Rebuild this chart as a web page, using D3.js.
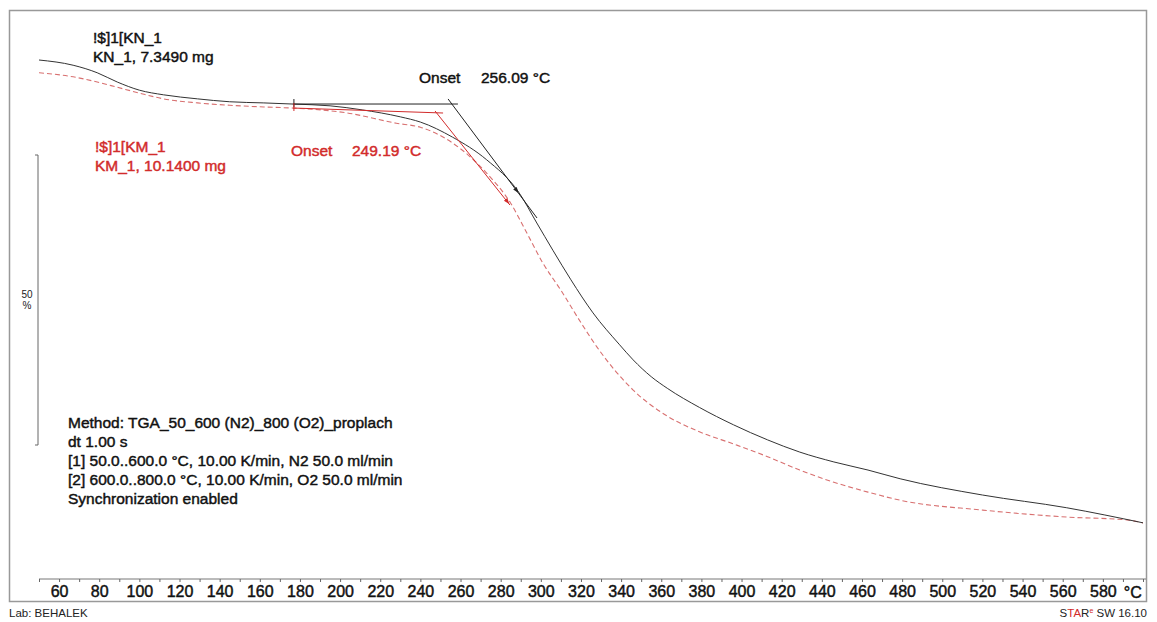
<html>
<head>
<meta charset="utf-8">
<title>TGA</title>
<style>
  body { margin: 0; background: #fff; }
  svg { font-family: "Liberation Sans", Arial, sans-serif; }
  .curve { fill: none; }
  .lbl { font-size: 15.5px; stroke-width: 0.45px; }
</style>
</head>
<body>
<script src="https://cdn.jsdelivr.net/npm/d3@7"></script>
<script>
// temperature (°C) / mass (%)
var blackT = [50, 67, 79, 89, 100, 112, 129, 145, 162, 177, 195, 211, 230, 240, 256, 273, 289, 298, 306, 315, 326, 339, 346, 355, 363, 379, 396, 413, 429, 446, 463, 479, 520, 562, 600];
var blackW = [100.0, 99.1, 97.8, 96.2, 94.8, 94.0, 93.3, 92.8, 92.6, 92.4, 92.1, 91.4, 90.2, 89.3, 86.7, 82.8, 77.2, 71.9, 67.2, 62.1, 56.4, 51.0, 48.3, 45.4, 43.4, 40.1, 37.1, 34.5, 32.4, 30.7, 29.3, 27.8, 25.0, 22.8, 20.2];
var redT = [50, 67, 79, 89, 100, 112, 129, 145, 162, 177, 203, 228, 240, 256, 273, 285, 293, 301, 310, 320, 328, 346, 363, 379, 396, 413, 429, 446, 463, 479, 520, 562, 592, 600];
var redW = [97.8, 97.1, 96.2, 95.3, 94.3, 93.3, 92.6, 92.2, 91.9, 91.7, 90.9, 89.1, 88.4, 85.7, 80.5, 75.3, 70.2, 65.0, 60.3, 54.7, 50.5, 43.1, 38.6, 35.9, 33.8, 31.6, 29.3, 27.2, 25.5, 24.1, 22.4, 21.2, 20.7, 20.2];

// onset constructions: baseline + inflection tangent, [°C, %]
var blackBase = [[176.5, 92.41], [258.7, 92.41]];
var blackTan = [[253.8, 93.28], [298.1, 72.76]];
var blackMark = [288.6, 77.2];
var redBase = [[176.5, 91.72], [251.3, 90.86]];
var redTan = [[247.3, 91.21], [284.6, 75.0]];
var redMark = [284.0, 75.3];
var blackOnset = "256.09 °C", redOnset = "249.19 °C";

var xTicks = d3.range(50, 601, 10);
var xLabels = d3.range(60, 581, 20);

var methodLines = [
  "Method: TGA_50_600 (N2)_800 (O2)_proplach",
  "dt 1.00 s",
  "[1] 50.0..600.0 °C, 10.00 K/min, N2 50.0 ml/min",
  "[2] 600.0..800.0 °C, 10.00 K/min, O2 50.0 ml/min",
  "Synchronization enabled"
];

var width = 1157, height = 622;
var RED = "#d22b2b", DASH = "#d87070", INK = "#111";

var svg = d3.select("body").append("svg")
  .attr("width", width).attr("height", height);

var x = d3.scaleLinear().domain([50, 600]).range([39, 1143]);
var y = d3.scaleLinear().domain([100, 50]).range([60, 350]);

// frame
svg.append("rect")
  .attr("x", 9.5).attr("y", 10.5).attr("width", 1137).attr("height", 591)
  .attr("fill", "none").attr("stroke", "#999").attr("stroke-width", 1.5);

// x axis
var axis = d3.axisBottom(x).tickValues(xTicks).tickSize(3).tickSizeOuter(0)
  .tickFormat(function (d) { return xLabels.indexOf(d) >= 0 ? d : ""; });
var ax = svg.append("g").attr("transform", "translate(0,579)").call(axis);
ax.select(".domain").attr("stroke", "#777").attr("d", "M39,0H1146");
ax.selectAll(".tick line").attr("stroke", "#666");
ax.selectAll(".tick text").attr("font-size", 16).attr("fill", INK)
  .attr("stroke", INK).attr("stroke-width", 0.45)
  .attr("font-family", "Liberation Sans, Arial, sans-serif").attr("y", 7);
svg.append("text").attr("x", x(580) + 21).attr("y", 598)
  .attr("font-size", 16).attr("fill", INK).attr("stroke", INK).attr("stroke-width", 0.45).text("°C");

// 50 % scale bar
var barTop = 155, barLen = y(50) - y(100);
svg.append("path")
  .attr("d", "M35," + barTop + "H38V" + (barTop + barLen) + "H35")
  .attr("fill", "none").attr("stroke", "#666").attr("stroke-width", 1);
svg.append("text").attr("x", 27).attr("y", barTop + barLen / 2 - 2)
  .attr("text-anchor", "middle").attr("font-size", 10).attr("fill", "#222").text("50");
svg.append("text").attr("x", 27).attr("y", barTop + barLen / 2 + 9)
  .attr("text-anchor", "middle").attr("font-size", 10).attr("fill", "#222").text("%");

var line = d3.line().x(function (d) { return x(d[0]); }).y(function (d) { return y(d[1]); })
  .curve(d3.curveMonotoneX);
var seg = d3.line().x(function (d) { return x(d[0]); }).y(function (d) { return y(d[1]); });

svg.append("path").attr("class", "curve")
  .attr("d", line(d3.zip(redT, redW)))
  .attr("stroke", DASH).attr("stroke-width", 1.1).attr("stroke-dasharray", "5,3");
svg.append("path").attr("class", "curve")
  .attr("d", line(d3.zip(blackT, blackW)))
  .attr("stroke", "#333").attr("stroke-width", 1);

// onset constructions
[[blackBase, blackTan, blackMark, "#222"], [redBase, redTan, redMark, RED]].forEach(function (c) {
  svg.append("path").attr("class", "curve").attr("d", seg(c[0]))
    .attr("stroke", c[3]).attr("stroke-width", 1);
  svg.append("path").attr("class", "curve").attr("d", seg(c[1]))
    .attr("stroke", c[3]).attr("stroke-width", 1);
  // limit tick at baseline start
  var p = c[0][0];
  svg.append("path").attr("d", "M" + (x(p[0]) + 1) + "," + (y(p[1]) - 5) + "v8")
    .attr("stroke", c[3]).attr("stroke-width", 1);
  // small arrowhead on the tangent at the inflection point
  var a = c[1][1], b = c[1][0], m = c[2];
  var ang = Math.atan2(y(a[1]) - y(b[1]), x(a[0]) - x(b[0])) * 180 / Math.PI;
  svg.append("path").attr("d", "M1,0L-5,-2.2L-5,2.2Z")
    .attr("transform", "translate(" + x(m[0]) + "," + y(m[1]) + ") rotate(" + ang + ")")
    .attr("fill", c[3]);
});

// labels
function label(tx, px, py, col) {
  svg.append("text").attr("class", "lbl").attr("x", px).attr("y", py)
    .attr("fill", col).attr("stroke", col).text(tx);
}
label("Onset", 419, 83, INK);
label(blackOnset, 481, 83, INK);
label("Onset", 291, 156, RED);
label(redOnset, 352, 156, RED);
label("!$]1[KN_1", 93, 43, INK);
label("KN_1, 7.3490 mg", 93, 62, INK);
label("!$]1[KM_1", 95, 152, RED);
label("KM_1, 10.1400 mg", 95, 171, RED);

svg.append("g").selectAll("text").data(methodLines).join("text")
  .attr("class", "lbl").attr("x", 68).attr("y", function (d, i) { return 428 + i * 19; })
  .attr("fill", INK).attr("stroke", INK).text(function (d) { return d; });

// footer
svg.append("text").attr("x", 9).attr("y", 617).attr("font-size", 11.5).attr("fill", "#222").text("Lab: BEHALEK");
var star = svg.append("text").attr("x", 1147).attr("y", 617).attr("font-size", 11.5)
  .attr("text-anchor", "end").attr("fill", "#222");
star.append("tspan").text("S");
star.append("tspan").attr("fill", RED).text("TA");
star.append("tspan").text("R");
star.append("tspan").attr("fill", RED).attr("font-size", 7).attr("dy", -4).text("e");
star.append("tspan").attr("dy", 4).text(" SW 16.10");
</script>
</body>
</html>
